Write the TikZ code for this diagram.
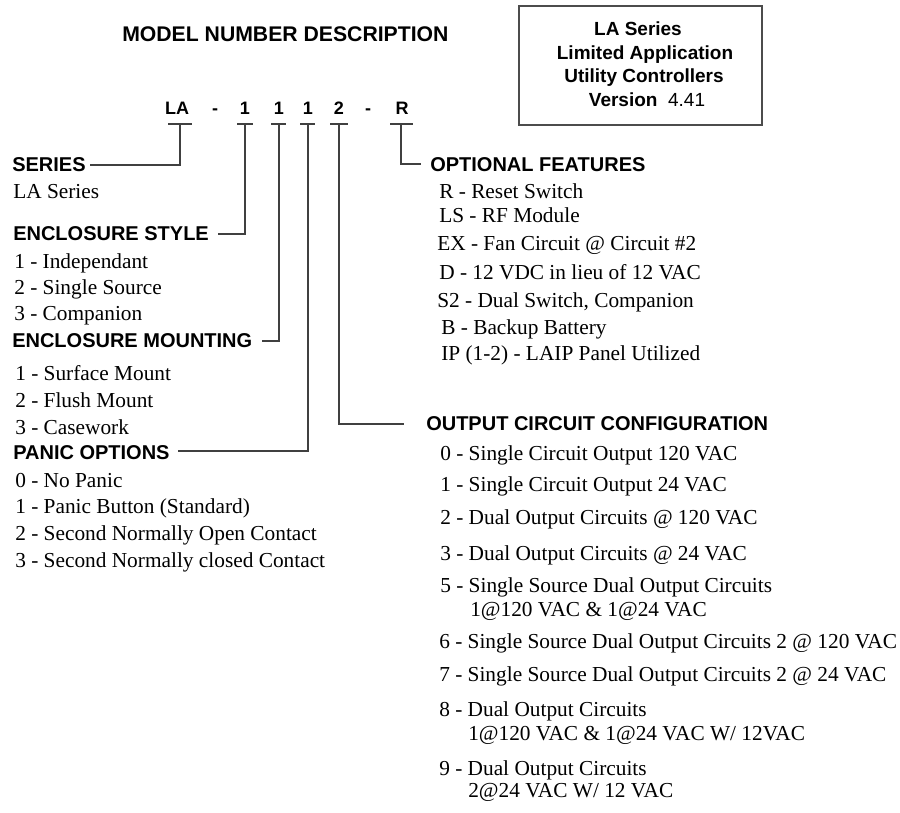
\documentclass[tikz,border=0pt]{standalone}
\usepackage{fontspec}
\setmainfont{Liberation Serif}
\newfontfamily\hdrfont{Liberation Sans}
\begin{document}
\begin{tikzpicture}[x=0.75pt,y=-0.75pt,
  item/.style={anchor=base west,inner sep=0pt,font=\fontsize{16}{18}\selectfont},
  head/.style={anchor=base west,inner sep=0pt,font=\hdrfont\bfseries\fontsize{15}{18}\selectfont},
  codech/.style={anchor=base,inner sep=0pt,font=\hdrfont\bfseries\fontsize{13.5}{16}\selectfont},
  boxt/.style={anchor=base,inner sep=0pt,font=\hdrfont\bfseries\fontsize{14.25}{17}\selectfont},
  conn/.style={draw=black!75,line width=1.1pt},
]
\useasboundingbox (0,0) rectangle (900,813);

% title and info box
\node[head,font=\hdrfont\bfseries\fontsize{15.9}{18}\selectfont] (title) at (122,42) {MODEL NUMBER DESCRIPTION};
\node[draw=black!70,line width=1.1pt,minimum width=243*0.75pt,minimum height=119*0.75pt,inner sep=0pt] (infobox) at (640.5,65.5) {};
\node[boxt] (b1) at (638,36) {LA Series};
\node[boxt] (b2) at (645,60) {Limited Application};
\node[boxt] (b3) at (644,83) {Utility Controllers};
\node[boxt] (b4) at (647,107) {Version\ \ \mdseries 4.41};

% model number characters
\node[codech] (cLA) at (177,115) {LA};
\node[codech] (d1) at (215,115) {-};
\node[codech] (c1) at (245,115) {1};
\node[codech] (c2) at (279,115) {1};
\node[codech] (c3) at (308,115) {1};
\node[codech] (c4) at (339,115) {2};
\node[codech] (d2) at (368,115) {-};
\node[codech] (cR) at (402,115) {R};

% tick marks under the characters
\coordinate (tLA) at (180,124);
\coordinate (t1) at (245,124);
\coordinate (t2) at (279,124);
\coordinate (t3) at (308,124);
\coordinate (t4) at (339,124);
\coordinate (tR) at (401,124);
\draw[conn] (168,124) -- (192,124);
\draw[conn] (237,124) -- (253,124);
\draw[conn] (271,124) -- (286,124);
\draw[conn] (300,124) -- (315,124);
\draw[conn] (330,124) -- (348,124);
\draw[conn] (390,124) -- (413,124);

% headers
\node[head] (series) at (12,172) {SERIES};
\node[head] (style) at (13,241) {ENCLOSURE STYLE};
\node[head] (mount) at (12,347) {ENCLOSURE MOUNTING};
\node[head] (panic) at (13,459) {PANIC OPTIONS};
\node[head] (optf) at (430,172) {OPTIONAL FEATURES};
\node[head] (outc) at (426,430) {OUTPUT CIRCUIT CONFIGURATION};

% connector ends
\coordinate (eSeries) at (90,165);
\coordinate (eStyle) at (218,234);
\coordinate (eMount) at (262,341);
\coordinate (ePanic) at (178,451);
\coordinate (eOpt) at (421,164);
\coordinate (eOut) at (404,424);

\draw[conn] (tLA) |- (eSeries);
\draw[conn] (t1) |- (eStyle);
\draw[conn] (t2) |- (eMount);
\draw[conn] (t3) |- (ePanic);
\draw[conn] (t4) |- (eOut);
\draw[conn] (tR) |- (eOpt);

% left items
\node[item] (s1) at (13,199) {LA Series};
\node[item] (es1) at (14,268) {1 - Independant};
\node[item] (es2) at (14,294) {2 - Single Source};
\node[item] (es3) at (14,320) {3 - Companion};
\node[item] (em1) at (15,380) {1 - Surface Mount};
\node[item] (em2) at (15,407) {2 - Flush Mount};
\node[item] (em3) at (15,434) {3 - Casework};
\node[item] (p0) at (15,487) {0 - No Panic};
\node[item] (p1) at (15,513) {1 - Panic Button (Standard)};
\node[item] (p2) at (15,540) {2 - Second Normally Open Contact};
\node[item] (p3) at (15,567) {3 - Second Normally closed Contact};

% optional features
\node[item] (o1) at (439,199) {R - Reset Switch};
\node[item] (o2) at (439,223) {LS - RF Module};
\node[item] (o3) at (437,250) {EX - Fan Circuit @ Circuit \#2};
\node[item] (o4) at (439,279) {D - 12 VDC in lieu of 12 VAC};
\node[item] (o5) at (437,307) {S2 - Dual Switch, Companion};
\node[item] (o6) at (441,334) {B - Backup Battery};
\node[item] (o7) at (441,360) {IP (1-2) - LAIP Panel Utilized};

% output circuit configuration
\node[item] (q0) at (440,460) {0 - Single Circuit Output 120 VAC};
\node[item] (q1) at (440,491) {1 - Single Circuit Output 24 VAC};
\node[item] (q2) at (440,524) {2 - Dual Output Circuits @ 120 VAC};
\node[item] (q3) at (440,560) {3 - Dual Output Circuits @ 24 VAC};
\node[item] (q5) at (440,592) {5 - Single Source Dual Output Circuits};
\node[item] (q5b) at (470,616) {1@120 VAC \& 1@24 VAC};
\node[item] (q6) at (439,648) {6 - Single Source Dual Output Circuits 2 @ 120 VAC};
\node[item] (q7) at (439,681) {7 - Single Source Dual Output Circuits 2 @ 24 VAC};
\node[item] (q8) at (439,716) {8 - Dual Output Circuits};
\node[item] (q8b) at (468,740) {1@120 VAC \& 1@24 VAC W/ 12VAC};
\node[item] (q9) at (439,775) {9 - Dual Output Circuits};
\node[item] (q9b) at (468,797) {2@24 VAC W/ 12 VAC};
\end{tikzpicture}
\end{document}
